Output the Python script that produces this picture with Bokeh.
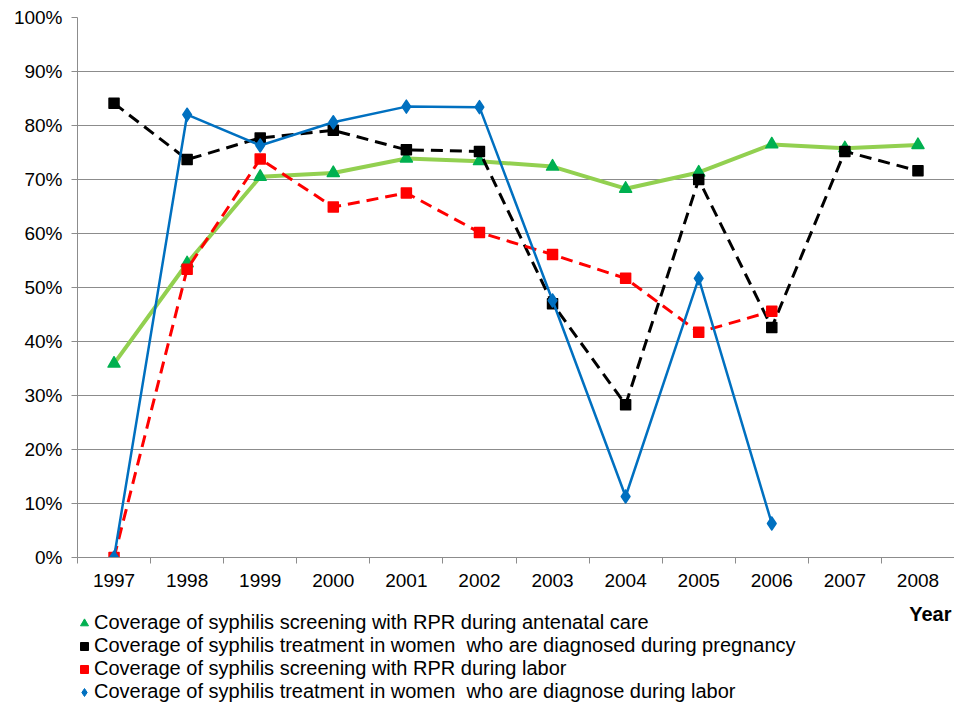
import numpy as np
from bokeh.plotting import figure
from bokeh.layouts import column
from bokeh.models import (Range1d, FixedTicker, NumeralTickFormatter, Legend,
                          LegendItem, Label, ColumnDataSource)
from bokeh.embed import file_html
from bokeh.resources import INLINE

# ---- data (percent) ----
years = [1997, 1998, 1999, 2000, 2001, 2002, 2003, 2004, 2005, 2006, 2007, 2008]
antenatal_screening = [35.9, 54.5, 70.5, 71.2, 73.9, 73.4, 72.4, 68.3, 71.3, 76.5, 75.8, 76.4]
pregnancy_treatment = [84.1, 73.7, 77.7, 79.1, 75.5, 75.2, 47.0, 28.3, 70.0, 42.6, 75.2, 71.6]
labor_screening = [0.0, 53.4, 73.8, 64.9, 67.5, 60.2, 56.1, 51.7, 41.7, 45.6]
labor_treatment = [0.0, 82.0, 76.3, 80.6, 83.5, 83.4, 47.6, 11.3, 51.7, 6.3]
y_tick_values = [0, 10, 20, 30, 40, 50, 60, 70, 80, 90, 100]
legend_labels = [
    "Coverage of syphilis screening with RPR during antenatal care",
    "Coverage of syphilis treatment in women  who are diagnosed during pregnancy",
    "Coverage of syphilis screening with RPR during labor",
    "Coverage of syphilis treatment in women  who are diagnose during labor",
]
x_axis_title = "Year"

FONT = "Liberation Sans"
GRID = "#8c8c8c"

styles = [
    dict(line_color="#92d050", line_width=4, line_dash="solid",
         marker="triangle", size=12, color="#00b050"),
    dict(line_color="#000000", line_width=3, line_dash="12 7",
         marker="square", size=10, color="#000000"),
    dict(line_color="#ff0000", line_width=3, line_dash="12 7",
         marker="square", size=10, color="#ff0000"),
    dict(line_color="#0070c0", line_width=2.5, line_dash="solid",
         marker="diamond", size=13, color="#0070c0"),
]
series = [antenatal_screening, pregnancy_treatment, labor_screening, labor_treatment]

# ---------------- main chart ----------------
p = figure(width=954, height=600, output_backend="svg", toolbar_location=None,
           x_range=Range1d(years[0] - 0.5, years[-1] + 0.5),
           y_range=Range1d(0, 1),
           min_border_left=77, min_border_right=0, min_border_top=17,
           min_border_bottom=43)
p.outline_line_color = None
p.background_fill_color = "white"
p.border_fill_color = "white"

yax = p.yaxis[0]
yax.ticker = FixedTicker(ticks=[v / 100 for v in y_tick_values])
yax.formatter = NumeralTickFormatter(format="0%")
yax.axis_line_color = GRID
yax.major_tick_line_color = GRID
yax.major_tick_out = 6
yax.major_tick_in = 0
yax.minor_tick_line_color = None
yax.major_label_standoff = 9
yax.major_label_text_font = FONT
yax.major_label_text_font_size = "19px"
yax.major_label_text_color = "#000000"

xax = p.xaxis[0]
xax.ticker = FixedTicker(ticks=years,
                         minor_ticks=[years[0] - 0.5 + i for i in range(len(years) + 1)])
xax.axis_line_color = GRID
xax.major_tick_line_color = None
xax.major_tick_out = 6
xax.major_tick_in = 0
xax.minor_tick_line_color = GRID
xax.minor_tick_out = 6
xax.minor_tick_in = 0
xax.major_label_standoff = 10
xax.major_label_text_font = FONT
xax.major_label_text_font_size = "19px"
xax.major_label_text_color = "#000000"

p.xgrid.grid_line_color = None
p.ygrid.ticker = FixedTicker(ticks=[v / 100 for v in y_tick_values[:-1]])
p.ygrid.grid_line_color = GRID
p.ygrid.grid_line_width = 1

for vals, st in zip(series, styles):
    src = ColumnDataSource(dict(x=years[:len(vals)], y=[v / 100 for v in vals]))
    p.line("x", "y", source=src, line_color=st["line_color"],
           line_width=st["line_width"], line_dash=st["line_dash"])
    p.scatter("x", "y", source=src, marker=st["marker"], size=st["size"],
              fill_color=st["color"], line_color=st["color"], line_width=1.5,
              line_join="round")

# ---------------- legend strip (frame is aligned with the chart's frame) ----------------
q = figure(width=954, height=103, output_backend="svg", toolbar_location=None,
           x_range=Range1d(0, 1), y_range=Range1d(0, 1),
           x_axis_location=None, y_axis_location=None,
           min_border_left=77, min_border_right=0, min_border_top=0,
           min_border_bottom=0)
q.grid.visible = False
q.outline_line_color = None
q.background_fill_color = "white"
q.border_fill_color = "white"

items = []
for label, st in zip(legend_labels, styles):
    # key-only renderer (no visible point), used just for the legend swatch
    ksrc = ColumnDataSource(dict(x=np.array([np.nan]), y=np.array([np.nan])))
    r = q.scatter("x", "y", source=ksrc, marker=st["marker"], size=st["size"],
                  fill_color=st["color"], line_color=st["color"])
    items.append(LegendItem(label=label, renderers=[r]))

legend = Legend(items=items, location=(-3, 0), orientation="vertical",
                glyph_width=20, glyph_height=22, label_height=22,
                label_standoff=0, spacing=0, padding=0, margin=0,
                label_text_font=FONT, label_text_font_size="20px",
                label_text_color="#000000",
                background_fill_alpha=0, border_line_color=None)
q.add_layout(legend, "center")

q.add_layout(Label(x=874, y=90, x_units="screen", y_units="screen",
                   text=x_axis_title, text_align="right", text_baseline="middle",
                   text_font=FONT, text_font_size="20px", text_font_style="bold",
                   text_color="#000000"))

open("out.html", "w").write(file_html(column(p, q, spacing=0), INLINE))
